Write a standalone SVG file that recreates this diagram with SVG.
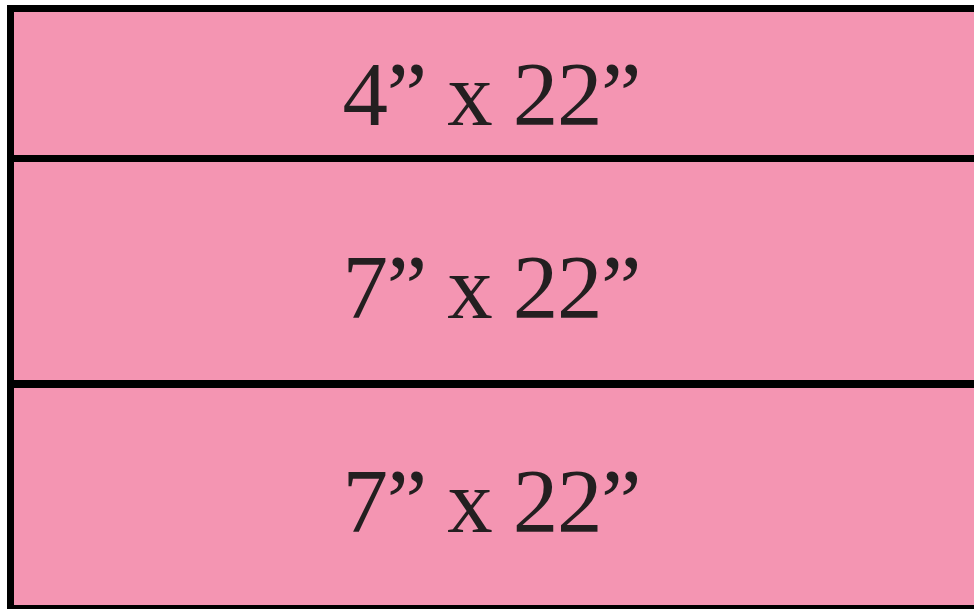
<svg xmlns="http://www.w3.org/2000/svg" width="974" height="609" viewBox="0 0 974 609">
<style>
.panel{fill:#F495B2}
.bar{fill:#000}
.lbl{font-family:"Liberation Serif","Times New Roman",serif;font-size:91px;fill:#231F20;text-anchor:middle}
</style>
<rect x="0" y="0" width="974" height="609" fill="#fff"/>
<g id="row1"><rect class="panel" x="14" y="12" width="960" height="143"/><text class="lbl" x="492" y="125" textLength="299" lengthAdjust="spacing">4” x 22”</text></g>
<g id="row2"><rect class="panel" x="14" y="162" width="960" height="218"/><text class="lbl" x="492" y="318" textLength="299" lengthAdjust="spacing">7” x 22”</text></g>
<g id="row3"><rect class="panel" x="14" y="388" width="960" height="217"/><text class="lbl" x="492" y="532" textLength="299" lengthAdjust="spacing">7” x 22”</text></g>
<g id="borders">
<rect class="bar" x="7" y="5" width="967" height="7"/>
<rect class="bar" x="7" y="5" width="7" height="604"/>
<rect class="bar" x="7" y="155" width="967" height="7"/>
<rect class="bar" x="7" y="380" width="967" height="8"/>
<rect class="bar" x="7" y="605" width="967" height="4"/>
</g>
</svg>
